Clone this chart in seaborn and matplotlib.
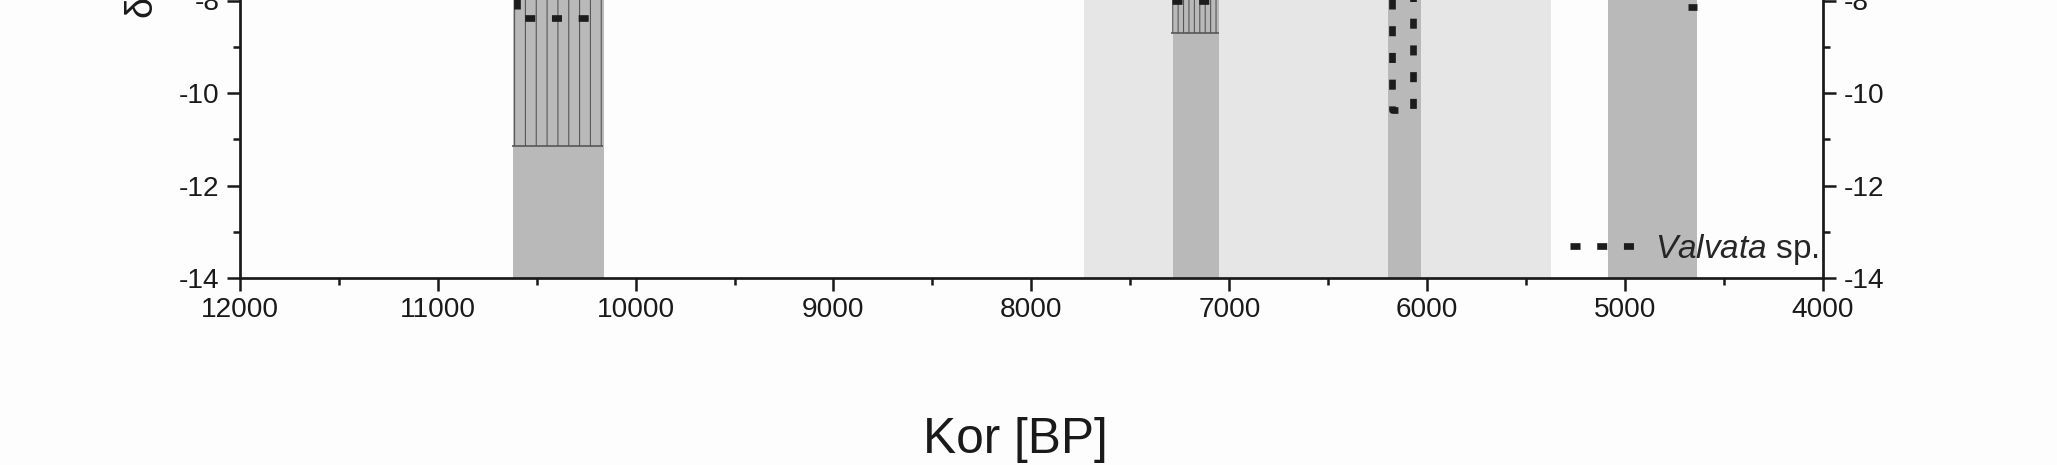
import pandas as pd
import seaborn as sns
import matplotlib.pyplot as plt
from matplotlib.lines import Line2D
from matplotlib.ticker import MultipleLocator

# shaded intervals [BP]
light_start = [7732]
light_end = [5376]
dark_start = [10620, 7283, 6198, 5088]
dark_end = [10160, 7051, 6030, 4635]

# hatched boxes: age range and lower edge
box_start = [10622, 7296]
box_end = [10165, 7051]
box_bottom = [-11.14, -8.71]
box_top = [-5.0, -5.0]
box_hatch = ['||', '||||']

# Valvata sp. record (segments)
seg = [0, 0, 0, 1, 1, 2, 2, 2, 2, 3, 3]
age = [10600, 10600, 10188, 7290, 7074, 6177, 6177, 6072, 6072, 4685, 4638]
d_val = [-7.6, -8.38, -8.38, -8.02, -8.02, -7.5, -10.36, -10.36, -7.5, -8.15, -8.15]

xticks = [12000, 11000, 10000, 9000, 8000, 7000, 6000, 5000, 4000]
yticks = [-14, -12, -10, -8]

df = pd.DataFrame({'seg': seg, 'age': age, 'd': d_val})

sns.set_theme(style='ticks')
plt.rcParams['font.family'] = ['Liberation Sans', 'DejaVu Sans']
plt.rcParams['mathtext.fontset'] = 'custom'
plt.rcParams['mathtext.rm'] = 'Liberation Sans'
plt.rcParams['mathtext.it'] = 'Liberation Sans:italic'
plt.rcParams['hatch.linewidth'] = 0.6
plt.rcParams['axes.unicode_minus'] = False

DPI = 130
W, H = 2057, 465
fig = plt.figure(figsize=(W / DPI, H / DPI), dpi=DPI, facecolor='#fdfdfd')

ymin, ymax = -14, -4
px_per_unit = 46.3
ax_h = (ymax - ymin) * px_per_unit
ax = fig.add_axes([239.7 / W, (H - 278.3) / H, (1823.1 - 239.7) / W, ax_h / H])
ax.set_facecolor('#fdfdfd')

for s, e in zip(light_start, light_end):
    ax.axvspan(s, e, color='#e6e6e6', lw=0, zorder=0)
for s, e in zip(dark_start, dark_end):
    ax.axvspan(s, e, color='#b9b9b9', lw=0, zorder=0.5)

for s, e, b, t, h in zip(box_start, box_end, box_bottom, box_top, box_hatch):
    ax.bar(s, t - b, width=e - s, bottom=b, align='edge', facecolor='none',
           edgecolor='#555555', lw=0, hatch=h, zorder=1)
    ax.hlines(b, e, s, color='#555555', lw=0.9, zorder=1.5)

ls = (0, (1.5, 2.5))
sns.lineplot(data=df, x='age', y='d', units='seg', estimator=None, sort=False,
             color='#1c1c1c', lw=3.7, linestyle=ls, ax=ax, legend=False, zorder=3)

ax.set_xlim(12000, 4000)
ax.set_ylim(ymin, ymax)
ax.set_xticks(xticks)
ax.set_yticks(yticks)
ax.xaxis.set_minor_locator(MultipleLocator(500))
ax.yaxis.set_minor_locator(MultipleLocator(1))

for side in ['left', 'right', 'bottom']:
    ax.spines[side].set_visible(True)
    ax.spines[side].set_linewidth(1.5)
    ax.spines[side].set_color('#1a1a1a')
ax.spines['top'].set_visible(False)

ax.tick_params(axis='both', which='major', length=7.2, width=1.4, color='#1a1a1a',
               labelsize=15.5, labelcolor='#1a1a1a', direction='out')
ax.tick_params(axis='both', which='minor', length=3.9, width=1.4, color='#1a1a1a', direction='out')
ax.tick_params(axis='x', which='major', pad=3)
ax.tick_params(axis='y', which='both', left=True, right=True, labelleft=True, labelright=True, pad=4)

ax.set_xlabel('Kor [BP]', fontsize=27.5, color='#1a1a1a')
ax.xaxis.set_label_coords((1015 - 239.7) / (1823.1 - 239.7), -138.7 / ax_h)
ax.set_ylabel('')

fig.text(164 / W, (H - 19) / H, 'δ$^{18}$O [‰]', rotation=90, ha='right', va='bottom',
         fontsize=21, color='#1a1a1a')

handle = Line2D([], [], color='#1c1c1c', lw=3.7, linestyle=ls)
ax.legend([handle], [r'$\mathit{Valvata}$ sp.'], loc='lower right',
          bbox_to_anchor=(0.9975, 0.025), frameon=False, fontsize=18.5,
          handlelength=1.95, handletextpad=0.6, borderpad=0, borderaxespad=0)

fig.savefig('out.png', dpi=DPI, facecolor=fig.get_facecolor())
